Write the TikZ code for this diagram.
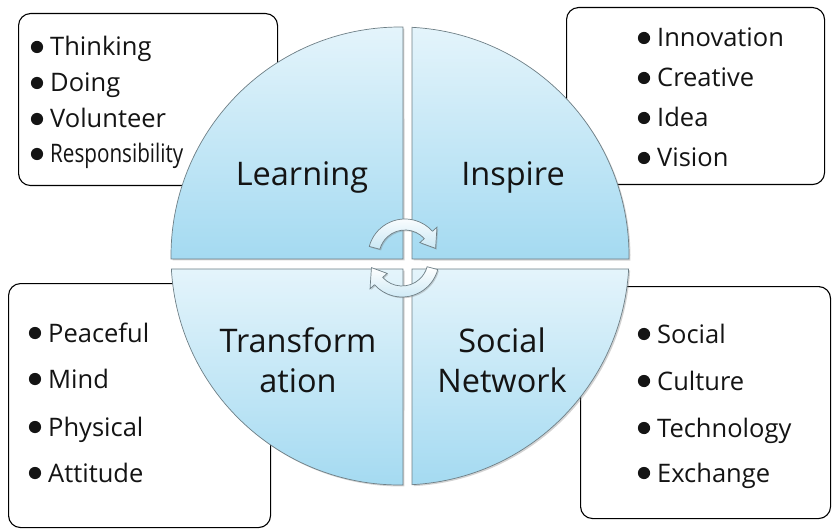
\documentclass[tikz,border=0pt]{standalone}
\usepackage{fontspec}
\usepackage{graphicx}
\setmainfont{Open Sans}
\usetikzlibrary{shadows}
\definecolor{qtop}{HTML}{E4F4FB}
\definecolor{qbot}{HTML}{A4DAF1}
\definecolor{qline}{HTML}{6E7F86}
\definecolor{txt}{HTML}{141414}
\definecolor{arrtop}{HTML}{FFFFFF}
\definecolor{arrbot}{HTML}{C9E7F4}
\tikzset{
 listbox/.style={draw=black, line width=1.1pt, rounded corners=12pt, fill=white, inner sep=0pt, anchor=north west},
 quad/.style={top color=qtop, bottom color=qbot, draw=qline, line width=0.7pt,
   drop shadow={shadow xshift=1.5pt, shadow yshift=-1.5pt, opacity=0.35}},
 cyc/.style={top color=arrtop, bottom color=arrbot, draw=qline, line width=0.7pt,
   drop shadow={shadow xshift=1.2pt, shadow yshift=-1.2pt, opacity=0.35}},
 listitem/.style={anchor=base west, inner sep=0pt, font=\fontsize{25.5}{30}\selectfont, text=txt},
 qlabel/.style={align=center, inner sep=0pt, font=\fontsize{32.5}{40}\selectfont, text=txt},
 bulletdot/.style={fill=txt},
}
\begin{document}
\begin{tikzpicture}[x=1pt,y=-1pt]
\useasboundingbox (0,0) rectangle (832,529);
% boxes behind the circle
\node[listbox, minimum width=259pt, minimum height=172pt] (boxTL) at (18,13) {};
\node[listbox, minimum width=258pt, minimum height=177pt] (boxTR) at (566,7) {};
\node[listbox, minimum width=262pt, minimum height=244pt] (boxBL) at (8,283) {};
\node[listbox, minimum width=250pt, minimum height=232pt] (boxBR) at (580,286) {};
% quadrants
\path[quad] (403,259) -- (171.02,259) arc[start angle=180.75, end angle=89.25, radius=229pt] -- cycle;
\path[quad] (412,259) -- (412,27.32) arc[start angle=87.0, end angle=-0.75, radius=229pt] -- cycle;
\path[quad] (403,269) -- (171.37,269) arc[start angle=183.25, end angle=270.75, radius=229pt] -- cycle;
\path[quad] (412,269) -- (412,484.68) arc[start angle=273.0, end angle=356.75, radius=229pt] -- cycle;
% quadrant labels
\node[qlabel] (learning) at (302,177) {Learning};
\node[qlabel] (inspire) at (513,177) {Inspire};
\node[qlabel] (transf) at (298,360) {Transform\\ation};
\node[qlabel] (social) at (502,360) {Social\\Network};
% cycle arrows
\begin{scope}[shift={(405,256)}]
\path[cyc] (165:37pt) arc[start angle=165, end angle=42, radius=37pt] -- (42:43pt) -- (14:31.5pt) -- (42:20pt) -- (42:26pt) arc[start angle=42, end angle=165, radius=26pt] -- cycle;
\end{scope}
\begin{scope}[shift={(402,260)}]
\path[cyc] (345:37pt) arc[start angle=345, end angle=222, radius=37pt] -- (222:43pt) -- (194:31.5pt) -- (222:20pt) -- (222:26pt) arc[start angle=222, end angle=345, radius=26pt] -- cycle;
\end{scope}
% list items
\foreach \n/\x/\y/\t in {tl1/50/56/Thinking, tl2/50/92/Doing, tl3/50/128/Volunteer,
  tr1/657/47/Innovation, tr2/657/87/Creative, tr3/657/127/Idea, tr4/657/167/Vision,
  bl1/48/342/Peaceful, bl2/48/388/Mind, bl3/48/436/Physical, bl4/48/482/Attitude,
  br1/657/343/Social, br2/657/390/Culture, br3/657/437/Technology, br4/657/482/Exchange}{
  \node[listitem] (\n) at (\x,\y) {\t};
  \fill[bulletdot] ([shift={(-13pt,9pt)}]\n.base west) circle (6.1pt);
}
\node[listitem] (tl4) at (50,163) {\scalebox{0.81}[1]{Responsibility}};
\fill[bulletdot] ([shift={(-13pt,9pt)}]tl4.base west) circle (6.1pt);
\end{tikzpicture}
\end{document}
